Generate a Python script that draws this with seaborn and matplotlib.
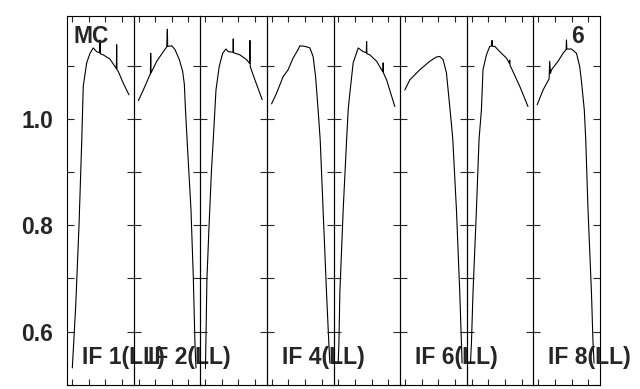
import matplotlib
matplotlib.use("Agg")
import matplotlib.pyplot as plt
import seaborn as sns
import pandas as pd

# channel / amplitude readings for each IF (LL polarisation)
if1_ch = [0.4, 3.65, 6.8, 9.4, 10.9, 14.2, 17.4, 20.5, 23.8, 26.7, 27.0, 27.3, 30.1, 36.6, 41.4, 42.7, 43.0, 43.3, 44.5, 49.3, 54.8]
if1_amp = [0.532, 0.648, 0.798, 0.955, 1.061, 1.105, 1.123, 1.133, 1.126, 1.124, 1.148, 1.122, 1.120, 1.112, 1.098, 1.094, 1.139, 1.092, 1.089, 1.067, 1.045]

if2_ch = [-0.2, 4.6, 11.0, 11.4, 11.7, 12.0, 17.5, 23.8, 27.1, 27.7, 28.0, 31.9, 35.0, 39.2, 42.4, 44.0, 45.1, 47.5, 50.4, 52.6, 54.2, 55.2]
if2_amp = [1.034, 1.054, 1.083, 1.084, 1.123, 1.086, 1.108, 1.126, 1.135, 1.168, 1.136, 1.137, 1.130, 1.111, 1.089, 1.065, 1.017, 0.930, 0.829, 0.704, 0.579, 0.532]

if3_ch = [0.3, 1.7, 3.7, 6.1, 7.8, 10.4, 13.5, 16.8, 20.0, 22.2, 26.7, 27.0, 27.3, 33.4, 39.8, 42.7, 43.0, 43.3, 47.8, 54.8]
if3_amp = [0.531, 0.698, 0.797, 0.904, 0.961, 1.054, 1.098, 1.123, 1.131, 1.126, 1.125, 1.150, 1.124, 1.120, 1.111, 1.104, 1.147, 1.098, 1.073, 1.036]

if4_ch = [-0.2, 4.6, 10.9, 15.7, 20.5, 25.3, 27.0, 31.8, 36.6, 39.7, 42.1, 44.5, 46.5, 49.3, 52.6, 54.8, 55.8]
if4_amp = [1.028, 1.048, 1.079, 1.092, 1.114, 1.130, 1.137, 1.136, 1.133, 1.117, 1.079, 1.017, 0.961, 0.829, 0.673, 0.579, 0.541]

if5_ch = [-0.2, 0.5, 1.4, 4.6, 7.9, 9.4, 11.0, 14.2, 19.0, 23.8, 26.8, 27.1, 27.4, 30.2, 36.7, 41.5, 42.7, 43.0, 43.3, 46.3, 54.2]
if5_amp = [0.542, 0.579, 0.673, 0.829, 0.961, 1.017, 1.048, 1.105, 1.133, 1.126, 1.124, 1.145, 1.122, 1.120, 1.108, 1.092, 1.088, 1.105, 1.086, 1.073, 1.023]

if6_ch = [-0.2, 4.6, 14.2, 23.8, 30.2, 33.4, 36.6, 39.8, 42.3, 44.6, 45.9, 49.4, 52.6, 54.2, 54.8]
if6_amp = [1.054, 1.073, 1.092, 1.108, 1.116, 1.117, 1.111, 1.086, 1.036, 0.990, 0.961, 0.829, 0.673, 0.579, 0.541]

if7_ch = [-1.1, -0.2, 1.3, 4.6, 7.1, 9.4, 10.9, 14.2, 17.4, 19.3, 19.6, 19.9, 22.2, 27.0, 33.4, 36.3, 36.6, 36.9, 38.2, 46.2, 54.1]
if7_amp = [0.541, 0.579, 0.673, 0.829, 0.961, 1.017, 1.092, 1.120, 1.136, 1.137, 1.147, 1.136, 1.136, 1.126, 1.114, 1.104, 1.110, 1.100, 1.095, 1.061, 1.023]

if8_ch = [-1.1, 4.6, 10.4, 11.0, 11.7, 12.7, 19.0, 23.8, 26.8, 27.1, 27.4, 31.9, 36.7, 39.8, 41.5, 44.2, 45.6, 47.8, 51.1, 52.6, 53.6]
if8_amp = [1.026, 1.054, 1.075, 1.108, 1.085, 1.092, 1.108, 1.123, 1.130, 1.148, 1.131, 1.131, 1.123, 1.098, 1.070, 1.017, 0.961, 0.829, 0.673, 0.579, 0.541]

channels = [if1_ch, if2_ch, if3_ch, if4_ch, if5_ch, if6_ch, if7_ch, if8_ch]
amplitudes = [if1_amp, if2_amp, if3_amp, if4_amp, if5_amp, if6_amp, if7_amp, if8_amp]
if_labels = ["IF 1(LL)", "IF 2(LL)", "", "IF 4(LL)", "", "IF 6(LL)", "", "IF 8(LL)"]

y_ticks = [0.5, 0.6, 0.7, 0.8, 0.9, 1.0, 1.1]
y_ticklabels = ["", "0.6", "", "0.8", "", "1.0", ""]
x_ticks = [0, 16, 32, 48]

sns.set_style("ticks")
plt.rcParams["font.family"] = ["Liberation Sans", "DejaVu Sans"]
plt.rcParams["font.weight"] = "bold"

rows = []
for i, (ch, amp) in enumerate(zip(channels, amplitudes)):
    for c, a in zip(ch, amp):
        rows.append({"IF": i + 1, "channel": c, "amp": a})
df = pd.DataFrame(rows)

fig, axes = plt.subplots(1, 8, figsize=(6.4, 3.89), dpi=100, sharey=True)
fig.subplots_adjust(left=0.1047, right=0.9375, top=0.9589, bottom=0.0103, wspace=0)

for i, ax in enumerate(axes):
    ax.set_facecolor("none")
    sub = df[df["IF"] == i + 1]
    sns.lineplot(data=sub, x="channel", y="amp", ax=ax, color="black",
                 linewidth=0.8, sort=False, estimator=None)
    ax.set_xlim(-4.7, 59.3)
    ax.set_ylim(0.5, 1.193)
    ax.set_xlabel("")
    ax.set_ylabel("")
    ax.set_xticks(x_ticks)
    ax.set_xticklabels([])
    ax.set_yticks(y_ticks)
    ax.tick_params(axis="x", which="both", direction="in", top=True, bottom=True,
                   length=4.3, width=0.8, labelbottom=False)
    ax.tick_params(axis="y", which="both", direction="in", left=True, right=True,
                   length=5, width=0.8, labelleft=(i == 0), pad=10, labelsize=16.5)
    for sp in ax.spines.values():
        sp.set_visible(True)
        sp.set_linewidth(0.8)
        sp.set_color("black")
    if if_labels[i]:
        ax.text(9.4, 0.54, if_labels[i], fontsize=16.5, fontweight="bold",
                ha="left", va="baseline", zorder=5)

axes[0].set_yticklabels(y_ticklabels, fontweight="bold")
axes[0].text(2.0, 1.143, "MC", fontsize=16.5, fontweight="bold", ha="left", va="baseline")
axes[7].text(43.7, 1.143, "6", fontsize=16.5, fontweight="bold", ha="right", va="baseline")

fig.savefig("out.png", dpi=100)
